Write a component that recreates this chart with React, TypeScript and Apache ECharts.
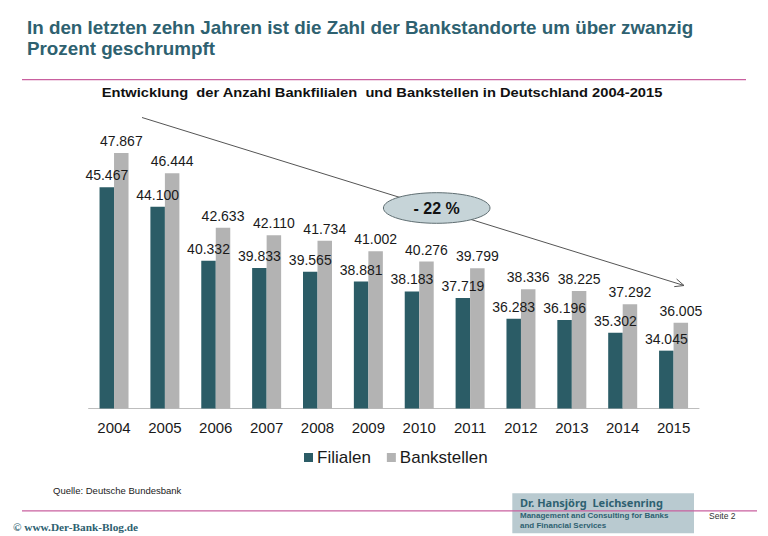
import React, { useEffect, useRef } from "react";
import * as echarts from "echarts";

const years = ["2004", "2005", "2006", "2007", "2008", "2009", "2010", "2011", "2012", "2013", "2014", "2015"];
const filialen = [45467, 44100, 40332, 39833, 39565, 38881, 38183, 37719, 36283, 36196, 35302, 34045];
const bankstellen = [47867, 46444, 42633, 42110, 41734, 41002, 40276, 39799, 38336, 38225, 37292, 36005];
const seriesNames = ["Filialen", "Bankstellen"];

const TEAL = "#2b5c66";
const GRAY = "#b3b3b3";
const TITLE = "#2e6170";
const PINK = "#c9609f";

function fmt(v: number): string {
  const t = Math.floor(v / 1000);
  const r = String(v % 1000).padStart(3, "0");
  return t + "." + r;
}

export default function App() {
  const ref = useRef<HTMLDivElement>(null);
  useEffect(() => {
    if (!ref.current) return;
    const chart = echarts.init(ref.current, undefined, { renderer: "svg" });
    // arrow geometry
    const x1 = 142, y1 = 117.5, x2 = 684, y2 = 285.5;
    const dx = x2 - x1, dy = y2 - y1;
    const len = Math.sqrt(dx * dx + dy * dy);
    const ux = dx / len, uy = dy / len;
    const ah = 9, aw = 4;
    const p1 = [x2 - ux * ah - uy * aw, y2 - uy * ah + ux * aw];
    const p2 = [x2 - ux * ah + uy * aw, y2 - uy * ah - ux * aw];

    const labelStyle = {
      show: true,
      position: "top" as const,
      distance: 5,
      fontSize: 14,
      color: "#1a1a1a",
      fontFamily: "'Liberation Sans', Arial, sans-serif",
      formatter: (p: any) => fmt(p.value),
    };

    chart.setOption({
      animation: false,
      backgroundColor: "#ffffff",
      grid: { left: 88.6, right: 69, top: 122.5, bottom: 127.5, containLabel: false },
      xAxis: {
        type: "category",
        data: years,
        axisLine: { lineStyle: { color: "#bdbdbd", width: 1 } },
        axisTick: { show: false },
        axisLabel: {
          fontSize: 15,
          color: "#1a1a1a",
          margin: 11,
          fontFamily: "'Liberation Sans', Arial, sans-serif",
        },
      },
      yAxis: {
        type: "value",
        min: 30000,
        max: 50000,
        show: false,
        splitLine: { show: false },
      },
      legend: {
        data: seriesNames,
        left: 299,
        top: 444,
        icon: "rect",
        itemWidth: 9,
        itemHeight: 9,
        itemGap: 16,
        textStyle: {
          fontSize: 17,
          color: "#1a1a1a",
          fontFamily: "'Liberation Sans', Arial, sans-serif",
          padding: [0, 0, 0, -1],
        },
      },
      series: [
        {
          name: seriesNames[0],
          type: "bar",
          data: filialen,
          barWidth: "28.5%",
          barGap: "0%",
          itemStyle: { color: TEAL },
          label: labelStyle,
          z: 2,
        },
        {
          name: seriesNames[1],
          type: "bar",
          data: bankstellen,
          barWidth: "28.5%",
          barGap: "0%",
          itemStyle: { color: GRAY },
          label: labelStyle,
          z: 2,
        },
      ],
      graphic: [
        {
          type: "text",
          x: 27,
          y: 28,
          scaleX: 1.045,
          style: {
            text: "In den letzten zehn Jahren ist die Zahl der Bankstandorte um über zwanzig",
            fill: TITLE,
            font: "bold 18px 'Liberation Sans', Arial, sans-serif",
            textVerticalAlign: "middle",
          },
        },
        {
          type: "text",
          x: 27,
          y: 48.5,
          scaleX: 1.045,
          style: {
            text: "Prozent geschrumpft",
            fill: TITLE,
            font: "bold 18px 'Liberation Sans', Arial, sans-serif",
            textVerticalAlign: "middle",
          },
        },
        {
          type: "rect",
          shape: { x: 22, y: 79, width: 724, height: 1.2 },
          style: { fill: PINK },
        },
        {
          type: "text",
          x: 382,
          y: 92,
          scaleX: 1.13,
          style: {
            text: "Entwicklung  der Anzahl Bankfilialen  und Bankstellen in Deutschland 2004-2015",
            fill: "#111",
            font: "bold 13px 'Liberation Sans', Arial, sans-serif",
            textAlign: "center",
            textVerticalAlign: "middle",
          },
        },
        {
          type: "line",
          z: 10,
          shape: { x1, y1, x2, y2 },
          style: { stroke: "#555", lineWidth: 1 },
        },
        {
          type: "polyline",
          z: 10,
          shape: { points: [p1, [x2, y2], p2] },
          style: { stroke: "#555", lineWidth: 1, fill: "none" },
        },
        {
          type: "ellipse",
          z: 11,
          shape: { cx: 436.7, cy: 208, rx: 53.3, ry: 15.3 },
          style: { fill: "#c6d4d8", stroke: "#5f6e72", lineWidth: 1 },
        },
        {
          type: "text",
          z: 12,
          x: 436.7,
          y: 208.5,
          style: {
            text: "- 22 %",
            fill: "#111",
            font: "bold 16px 'Liberation Sans', Arial, sans-serif",
            textAlign: "center",
            textVerticalAlign: "middle",
          },
        },
        {
          type: "text",
          x: 53,
          y: 490,
          style: {
            text: "Quelle: Deutsche Bundesbank",
            fill: "#222",
            font: "9.5px 'Liberation Sans', Arial, sans-serif",
            textVerticalAlign: "middle",
          },
        },
        {
          type: "rect",
          shape: { x: 512.3, y: 493.3, width: 181.7, height: 40 },
          style: { fill: "#b9cad0" },
        },
        {
          type: "rect",
          z: 5,
          shape: { x: 22, y: 510.2, width: 735, height: 1.2 },
          style: { fill: PINK },
        },
        {
          type: "text",
          z: 6,
          x: 520,
          y: 502,
          style: {
            text: "Dr. Hansjörg  Leichsenring",
            fill: TITLE,
            font: "bold 11px 'Noto Sans', sans-serif",
            textVerticalAlign: "middle",
          },
        },
        {
          type: "text",
          z: 6,
          x: 520,
          y: 515.4,
          style: {
            text: "Management and Consulting for Banks",
            fill: TITLE,
            font: "bold 8px 'Liberation Sans', Arial, sans-serif",
            textVerticalAlign: "middle",
          },
        },
        {
          type: "text",
          z: 6,
          x: 520,
          y: 525,
          style: {
            text: "and Financial Services",
            fill: TITLE,
            font: "bold 8px 'Liberation Sans', Arial, sans-serif",
            textVerticalAlign: "middle",
          },
        },
        {
          type: "text",
          x: 709,
          y: 516,
          style: {
            text: "Seite 2",
            fill: "#333",
            font: "8.5px 'Liberation Sans', Arial, sans-serif",
            textVerticalAlign: "middle",
          },
        },
        {
          type: "text",
          x: 13,
          y: 527.3,
          style: {
            text: "© www.Der-Bank-Blog.de",
            fill: TITLE,
            font: "bold 11.3px 'Liberation Serif', 'DejaVu Serif', serif",
            textVerticalAlign: "middle",
          },
        },
      ],
    });
    return () => chart.dispose();
  }, []);
  return (
    <div
      ref={ref}
      style={{ position: "absolute", left: 0, top: 0, width: 768, height: 536, background: "#fff" }}
    />
  );
}
